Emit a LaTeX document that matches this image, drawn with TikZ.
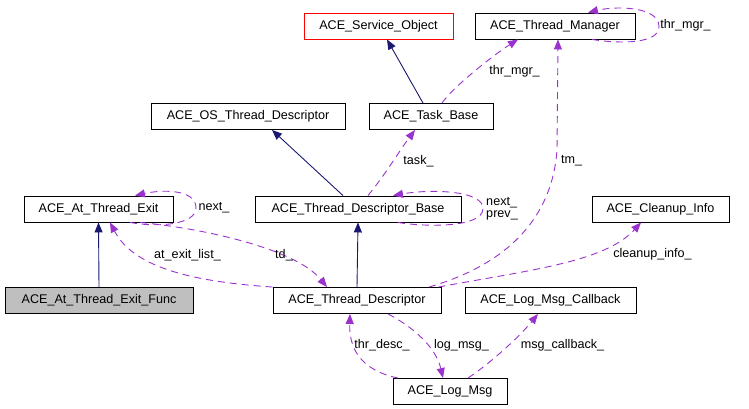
\documentclass[tikz,border=0pt]{standalone}
\usepackage{fontspec}
\setmainfont{Liberation Sans}
\usetikzlibrary{arrows.meta}
\definecolor{inh}{HTML}{191970}
\definecolor{use}{HTML}{9A32CD}
\definecolor{grayfill}{HTML}{BFBFBF}
\begin{document}
\begin{tikzpicture}[x=1pt,y=-1pt,
  cls/.style={draw=black,line width=0.9pt,minimum height=26pt,inner sep=0pt,font=\fontsize{12.6}{14}\selectfont},
  lbl/.style={inner sep=0pt,font=\fontsize{12.6}{14}\selectfont},
  inhedge/.style={draw=inh,line width=0.9pt,-{Triangle[length=10pt,width=8pt]}},
  useedge/.style={draw=use,line width=0.9pt,dash pattern=on 7pt off 5pt,-{Triangle[length=10pt,width=8pt]}}]
\useasboundingbox (0,0) rectangle (749,409);
% classes
\node[cls,draw=red,minimum width=149pt] (so) at (378.5,26) {ACE\_Service\_Object};
\node[cls,minimum width=160pt] (tm) at (555,26) {ACE\_Thread\_Manager};
\node[cls,minimum width=194pt] (os) at (248,116.5) {ACE\_OS\_Thread\_Descriptor};
\node[cls,minimum width=124pt] (tb) at (431,116.5) {ACE\_Task\_Base};
\node[cls,minimum width=149pt] (ate) at (98.5,209) {ACE\_At\_Thread\_Exit};
\node[cls,minimum width=206pt] (tdb) at (358,209) {ACE\_Thread\_Descriptor\_Base};
\node[cls,minimum width=137pt] (ci) at (660.5,209) {ACE\_Cleanup\_Info};
\node[cls,fill=grayfill,minimum width=188pt] (atef) at (99,300.5) {ACE\_At\_Thread\_Exit\_Func};
\node[cls,minimum width=168pt] (td) at (357,300.5) {ACE\_Thread\_Descriptor};
\node[cls,minimum width=171pt] (lmc) at (550.5,300.5) {ACE\_Log\_Msg\_Callback};
\node[cls,minimum width=114pt] (lm) at (450,391.5) {ACE\_Log\_Msg};
% inheritance
\draw[inhedge] ([xshift=-8pt]tb.north) -- ([xshift=8.5pt]so.south);
\draw[inhedge] ([xshift=-15pt]tdb.north) -- ([xshift=24pt]os.south);
\draw[inhedge] (atef.north) -- (ate.south);
\draw[inhedge] (td.north) -- (tdb.south);
% usage
\draw[useedge] ([xshift=11pt]tb.north) .. controls (452,88) and (492,56) .. ([xshift=-37pt]tm.south);
\node[lbl] (l1) at (514.5,71) {thr\_mgr\_};
\draw[useedge] ([xshift=37pt]tm.south) .. controls (620,44) and (660,44) .. (659,26) .. controls (658,6) and (615,6) .. ([xshift=33pt]tm.north);
\node[lbl] (l2) at (685.5,25) {thr\_mgr\_};
\draw[useedge] ([xshift=10pt]tdb.north) .. controls (385,175) and (400,150) .. ([xshift=-16pt]tb.south);
\node[lbl] (l3) at (418.5,161) {task\_};
\draw[useedge] ([xshift=72pt]td.north) .. controls (505,265) and (552,220) .. (557,150) -- ([xshift=3pt]tm.south);
\node[lbl] (l4) at (571.5,161) {tm\_};
\draw[useedge] ([xshift=-3pt]td.north east) .. controls (530,270) and (605,262) .. ([xshift=-19.5pt]ci.south);
\node[lbl] (l5) at (652.5,254) {cleanup\_info\_};
\draw[useedge] ([xshift=40pt]tdb.south) .. controls (425,227) and (482,228) .. (483,209) .. controls (484,190) and (430,189) .. ([xshift=35pt]tdb.north);
\node[lbl,align=left] (l6) at (502,208.5) {next\_\\[-1.5pt]prev\_};
\draw[useedge] ([xshift=31.5pt]ate.south) .. controls (160,228) and (196,224) .. (196,208) .. controls (196,190) and (165,189) .. ([xshift=36.5pt]ate.north);
\node[lbl] (l7) at (214,208) {next\_};
\draw[useedge] (td.north west) .. controls (200,282) and (135,270) .. ([xshift=11.5pt]ate.south);
\node[lbl] (l8) at (187.5,255) {at\_exit\_list\_};
\draw[useedge] ([xshift=41.5pt]ate.south) .. controls (200,228) and (295,248) .. ([xshift=-30pt]td.north);
\node[lbl] (l9) at (284,255) {td\_};
\draw[useedge] ([xshift=-52pt]lm.north) .. controls (360,370) and (349,348) .. ([xshift=-7pt]td.south);
\node[lbl] (l10) at (382,345) {thr\_desc\_};
\draw[useedge] ([xshift=31pt]td.south) .. controls (415,328) and (436,348) .. ([xshift=-7pt]lm.north);
\node[lbl] (l11) at (461.5,345) {log\_msg\_};
\draw[useedge] ([xshift=18pt]lm.north) .. controls (492,362) and (520,336) .. ([xshift=-12.5pt]lmc.south);
\node[lbl] (l12) at (562.5,345) {msg\_callback\_};
\end{tikzpicture}
\end{document}
